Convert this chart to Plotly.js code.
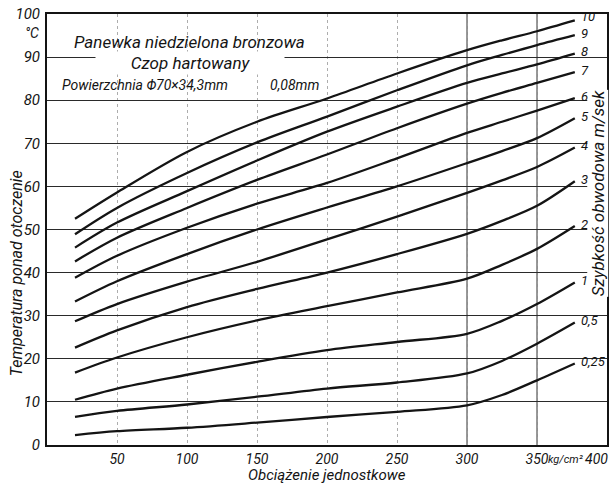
<!DOCTYPE html>
<html>
<head>
<meta charset="utf-8">
<script src="https://cdn.plot.ly/plotly-3.0.1.min.js"></script>
<style>html,body{margin:0;padding:0;background:#fff;}#chart{width:610px;height:484px;}</style>
</head>
<body>
<div id="chart"></div>
<script>
// Load (kg/cm2) at which temperatures were read
const load = [20, 50, 100, 150, 200, 250, 300, 325, 350, 377];
// Circumferential speed labels (m/sek)
const speeds = ['10', '9', '8', '7', '6', '5', '4', '3', '2', '1', '0,5', '0,25'];
// Temperature above ambient (°C) per speed
const t10  = [52.5, 58.6, 68.0, 75.0, 80.4, 86.2, 91.6, 93.9, 96.0, 98.5];
const t9   = [48.9, 55.0, 63.1, 70.2, 76.2, 82.3, 88.1, 90.5, 92.8, 95.1];
const t8   = [45.8, 51.6, 58.9, 66.0, 72.7, 78.5, 84.0, 86.2, 88.3, 90.8];
const t7   = [42.6, 48.1, 55.0, 61.5, 67.4, 73.5, 79.2, 81.7, 84.0, 86.5];
const t6   = [38.8, 43.9, 50.4, 56.0, 60.8, 66.5, 72.4, 75.0, 77.6, 80.5];
const t5   = [33.3, 38.0, 44.3, 50.0, 55.1, 60.0, 65.4, 68.2, 71.2, 75.8];
const t4   = [28.7, 32.7, 37.9, 42.5, 47.7, 53.0, 58.5, 61.4, 64.5, 69.0];
const t3   = [22.6, 26.6, 32.0, 36.2, 40.0, 44.3, 49.0, 52.0, 55.5, 61.2];
const t2   = [16.8, 20.3, 25.0, 28.9, 32.2, 35.4, 38.6, 41.8, 45.5, 50.8];
const t1   = [10.5, 13.1, 16.3, 19.3, 22.0, 23.9, 25.8, 28.8, 32.7, 37.7];
const t05  = [6.5, 7.9, 9.4, 11.2, 13.1, 14.5, 16.6, 19.5, 23.5, 28.4];
const t025 = [2.3, 3.2, 4.0, 5.2, 6.5, 7.7, 9.2, 11.6, 15.0, 18.9];
// Axis tick labels
const xTicks = [50, 100, 150, 200, 250, 300, 350];
const xTickText = ['50', '100', '150', '200', '250', '300', '350'];
const yTicks = [0, 10, 20, 30, 40, 50, 60, 70, 80, 90, 100];

const series = [t10, t9, t8, t7, t6, t5, t4, t3, t2, t1, t05, t025];
const FONT = 'Roboto, "Liberation Sans", sans-serif';
const ink = '#141414';

const traces = series.map((ys, i) => ({
  x: load, y: ys, type: 'scatter', mode: 'lines', name: speeds[i],
  line: {color: ink, width: 2.3, shape: 'spline', smoothing: 0.9},
  hoverinfo: 'skip', showlegend: false
}));

const it = (size) => ({family: FONT, size: size, color: ink, style: 'italic'});
const lastX = load[load.length - 1];

const annotations = [
  {x: 102, y: 93.5, xref: 'x', yref: 'y', text: 'Panewka niedzielona bronzowa', showarrow: false, font: it(17), xanchor: 'center', yanchor: 'middle'},
  {x: 102, y: 88.6, xref: 'x', yref: 'y', text: '\u2003\u2003Czop hartowany\u2003\u2003', showarrow: false, font: it(17), xanchor: 'center', yanchor: 'middle', bgcolor: '#ffffff'},
  {x: 9, y: 83.5, xref: 'x', yref: 'y', text: 'Powierzchnia \u03A670\u00D734,3mm', showarrow: false, font: it(14), xanchor: 'left', yanchor: 'middle'},
  {x: 158, y: 83.5, xref: 'x', yref: 'y', text: '0,08mm', showarrow: false, font: it(14), xanchor: 'left', yanchor: 'middle'},
  {x: -0.027, y: 95.5, xref: 'paper', yref: 'y', text: '\u00B0C', showarrow: false, font: it(14), xanchor: 'center', yanchor: 'middle'},
  {x: -0.054, y: 0.398, xref: 'paper', yref: 'paper', text: 'Temperatura ponad otoczenie', textangle: -90, showarrow: false, font: it(16), xanchor: 'center', yanchor: 'middle'},
  {x: 0.984, y: 0.584, xref: 'paper', yref: 'paper', text: 'Szybko\u015B\u0107 obwodowa m/sek', textangle: -90, showarrow: false, font: it(17), xanchor: 'center', yanchor: 'middle', bgcolor: '#ffffff', borderpad: 0},
  {x: 0.5, y: 0, xref: 'paper', yref: 'paper', yshift: -30, text: 'Obci\u0105\u017Cenie jednostkowe', showarrow: false, font: it(15), xanchor: 'center', yanchor: 'middle'},
  {x: 370, y: 0, xref: 'x', yref: 'paper', yshift: -14, text: 'kg/cm\u00B2', showarrow: false, font: it(11), xanchor: 'center', yanchor: 'middle'},
  {x: 1, y: 0, xref: 'paper', yref: 'paper', xshift: 3, yshift: -14, text: '400', showarrow: false, font: it(14), xanchor: 'right', yanchor: 'middle'}
];

series.forEach((ys, i) => annotations.push({
  x: lastX + 3, y: ys[ys.length - 1] + 0.4, xref: 'x', yref: 'y',
  yshift: i === 0 ? 2 : 0,
  text: speeds[i], showarrow: false, xanchor: 'left', yanchor: 'middle',
  font: it(13)
}));

const shapes = [300, 350].map(v => ({
  type: 'line', xref: 'x', yref: 'paper', x0: v, x1: v, y0: 0, y1: 1,
  line: {color: '#333', width: 1}, layer: 'below'
}));

const layout = {
  width: 610, height: 484,
  margin: {l: 47, r: 3, t: 14, b: 39, pad: 0},
  paper_bgcolor: '#ffffff', plot_bgcolor: '#ffffff',
  showlegend: false,
  xaxis: {
    range: [0, 400], tickmode: 'array', tickvals: xTicks, ticktext: xTickText,
    showgrid: true, gridcolor: '#8a8a8a', gridwidth: 0.7, griddash: 'dot',
    showline: true, linecolor: ink, linewidth: 2, mirror: true,
    ticks: '', zeroline: false, tickfont: it(14), ticklabelstandoff: 0,
    fixedrange: true
  },
  yaxis: {
    range: [0, 100], tickmode: 'array', tickvals: yTicks,
    showgrid: true, gridcolor: '#2a2a2a', gridwidth: 1.1,
    showline: true, linecolor: ink, linewidth: 2, mirror: true,
    ticks: '', zeroline: false, tickfont: it(15), ticklabelstandoff: 2,
    fixedrange: true
  },
  annotations: annotations,
  shapes: shapes
};

Plotly.newPlot('chart', traces, layout, {staticPlot: true, displayModeBar: false});
</script>
</body>
</html>
